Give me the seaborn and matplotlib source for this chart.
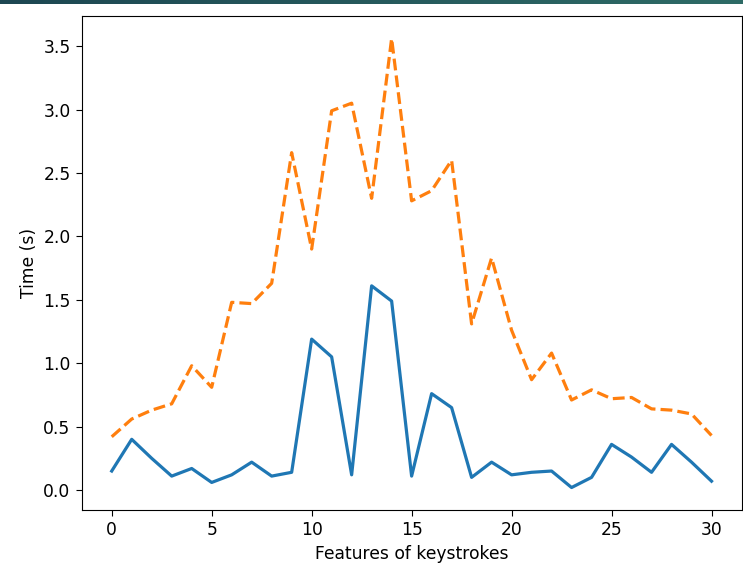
import numpy as np
import pandas as pd
import matplotlib
matplotlib.use('Agg')
import matplotlib.pyplot as plt
import seaborn as sns

# keystroke feature index
features = list(range(31))

# solid blue series
time_low = [0.15, 0.40, 0.25, 0.11, 0.17, 0.06, 0.12, 0.22, 0.11, 0.14,
            1.19, 1.05, 0.12, 1.61, 1.49, 0.11, 0.76, 0.65, 0.10, 0.22,
            0.12, 0.14, 0.15, 0.02, 0.10, 0.36, 0.26, 0.14, 0.36, 0.22,
            0.07]

# dashed orange series
time_high = [0.42, 0.56, 0.63, 0.68, 0.98, 0.81, 1.48, 1.47, 1.63, 2.66,
             1.90, 2.99, 3.05, 2.30, 3.56, 2.28, 2.36, 2.60, 1.31, 1.83,
             1.26, 0.87, 1.08, 0.71, 0.79, 0.72, 0.73, 0.64, 0.63, 0.60,
             0.43]

df = pd.DataFrame({
    'feature': features * 2,
    'time': time_low + time_high,
    'series': ['low'] * len(features) + ['high'] * len(features),
})

plt.rcParams['font.size'] = 12.3

fig = plt.figure(figsize=(7.43, 5.73), dpi=100)
ax = fig.add_axes([0.110, 0.110, 0.888, 0.862])

# dark header strip from the screenshot
band = fig.add_axes([0, 0.993, 1, 0.007])
band.imshow(np.linspace(0, 1, 256).reshape(1, -1), aspect='auto',
            cmap=matplotlib.colors.LinearSegmentedColormap.from_list(
                'band', ['#1d4752', '#2e6b66']))
band.axis('off')

sns.lineplot(data=df, x='feature', y='time', hue='series', style='series',
             palette={'low': '#1f77b4', 'high': '#ff7f0e'},
             dashes={'low': '', 'high': (3.7, 1.6)},
             linewidth=2.3, legend=False, ax=ax)

ax.set_xlabel('Features of keystrokes')
ax.set_ylabel('Time (s)')
ax.set_xticks([0, 5, 10, 15, 20, 25, 30])
ax.set_yticks(np.arange(0, 3.51, 0.5))
ax.tick_params(length=4.5)

fig.savefig('out.png', dpi=100)
